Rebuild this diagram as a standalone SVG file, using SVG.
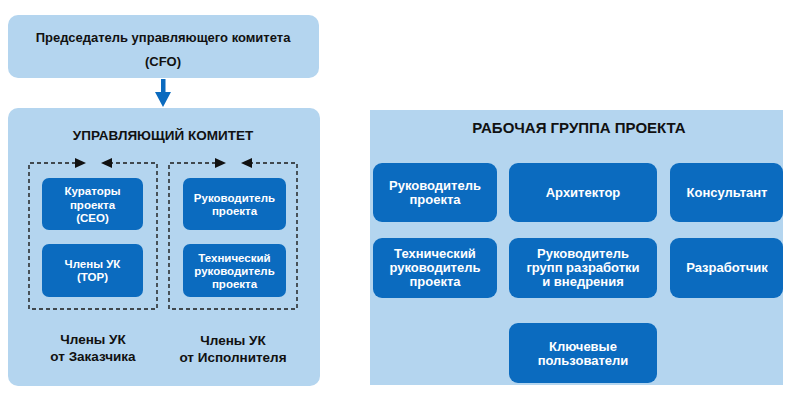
<svg xmlns="http://www.w3.org/2000/svg" width="791" height="403" viewBox="0 0 791 403">
<defs>
<style>
.panel{fill:#b4d5ef}
.node{fill:#0b6bbf}
.t{font-family:"Liberation Sans",Arial,sans-serif;font-weight:bold;text-anchor:middle}
.dk{fill:#111}
.wt{fill:#fff}
.dash{fill:none;stroke:#1a1a1a;stroke-width:1.4;stroke-dasharray:4 3}
</style>
</defs>
<rect width="791" height="403" fill="#fff"/>

<g id="chairman">
<rect class="panel" x="8" y="15" width="311" height="63" rx="10"/>
<text class="t dk" font-size="13" x="163" y="42">Председатель управляющего комитета</text>
<text class="t dk" font-size="13" x="163" y="66">(CFO)</text>
</g>

<g id="steering-committee">
<rect class="panel" x="8" y="108" width="312" height="278" rx="10"/>
<text class="t dk" font-size="13.5" x="163" y="140">УПРАВЛЯЮЩИЙ КОМИТЕТ</text>
</g>

<g id="customer-members">
<path class="dash" d="M76 163 H29 V309 H157 V163 H111"/>
<text class="t dk" font-size="13.5" x="93" y="344">Члены УК</text>
<text class="t dk" font-size="13.5" x="93" y="360.5">от Заказчика</text>
</g>

<g id="contractor-members">
<path class="dash" d="M216 163 H169 V309 H297 V163 H251"/>
<text class="t dk" font-size="13.5" x="233" y="345">Члены УК</text>
<text class="t dk" font-size="13.5" x="233" y="361.5">от Исполнителя</text>
</g>

<g id="curators">
<rect class="node" x="42" y="178" width="101" height="52" rx="7"/>
<text class="t wt" font-size="11.5" x="92.5" y="195">Кураторы</text>
<text class="t wt" font-size="11.5" x="92.5" y="208.5">проекта</text>
<text class="t wt" font-size="11.5" x="92.5" y="222">(CEO)</text>
</g>

<g id="members-top">
<rect class="node" x="42" y="244" width="101" height="53" rx="7"/>
<text class="t wt" font-size="11.5" x="92.5" y="268">Члены УК</text>
<text class="t wt" font-size="11.5" x="92.5" y="281">(TOP)</text>
</g>

<g id="pm-committee">
<rect class="node" x="183" y="178" width="103" height="52" rx="7"/>
<text class="t wt" font-size="11.5" x="234.5" y="202">Руководитель</text>
<text class="t wt" font-size="11.5" x="234.5" y="215">проекта</text>
</g>

<g id="tech-committee">
<rect class="node" x="183" y="244" width="103" height="53" rx="7"/>
<text class="t wt" font-size="11.5" x="234.5" y="262">Технический</text>
<text class="t wt" font-size="11.5" x="234.5" y="275">руководитель</text>
<text class="t wt" font-size="11.5" x="234.5" y="288">проекта</text>
</g>

<g id="work-group">
<rect class="panel" x="370" y="110" width="413" height="275"/>
<text class="t dk" font-size="15" x="579" y="133">РАБОЧАЯ ГРУППА ПРОЕКТА</text>
</g>

<g id="wg-pm">
<rect class="node" x="373" y="163" width="124" height="59" rx="9"/>
<text class="t wt" font-size="13" x="435" y="189.5">Руководитель</text>
<text class="t wt" font-size="13" x="435" y="203.5">проекта</text>
</g>

<g id="wg-architect">
<rect class="node" x="509" y="163" width="148" height="59" rx="9"/>
<text class="t wt" font-size="13" x="583" y="197">Архитектор</text>
</g>

<g id="wg-consultant">
<rect class="node" x="670" y="163" width="113" height="59" rx="9"/>
<text class="t wt" font-size="13" x="727" y="197">Консультант</text>
</g>

<g id="wg-tech">
<rect class="node" x="373" y="238" width="124" height="60" rx="9"/>
<text class="t wt" font-size="13" x="435" y="258">Технический</text>
<text class="t wt" font-size="13" x="435" y="272">руководитель</text>
<text class="t wt" font-size="13" x="435" y="286">проекта</text>
</g>

<g id="wg-devlead">
<rect class="node" x="509" y="238" width="148" height="60" rx="9"/>
<text class="t wt" font-size="13" x="583" y="258">Руководитель</text>
<text class="t wt" font-size="13" x="583" y="272">групп разработки</text>
<text class="t wt" font-size="13" x="583" y="286">и внедрения</text>
</g>

<g id="wg-developer">
<rect class="node" x="670" y="238" width="113" height="60" rx="9"/>
<text class="t wt" font-size="13" x="727" y="272">Разработчик</text>
</g>

<g id="wg-keyusers">
<rect class="node" x="509" y="323" width="148" height="60" rx="9"/>
<text class="t wt" font-size="13" x="583" y="350.5">Ключевые</text>
<text class="t wt" font-size="13" x="583" y="364.5">пользователи</text>
</g>

<g id="connectors">
<rect x="161" y="79" width="4.5" height="15" fill="#0b6bbf"/>
<polygon points="155,92 171,92 163,107" fill="#0b6bbf"/>
<polygon points="75,158 86,163 75,168" fill="#111"/>
<polygon points="112,158 101,163 112,168" fill="#111"/>
<polygon points="215,158 226,163 215,168" fill="#111"/>
<polygon points="252,158 241,163 252,168" fill="#111"/>
</g>
</svg>
